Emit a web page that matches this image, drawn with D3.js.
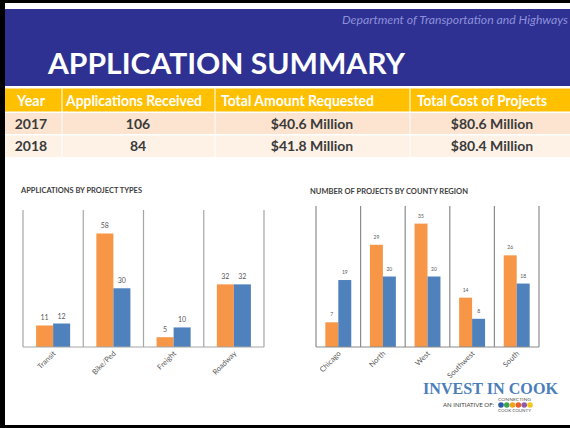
<!DOCTYPE html>
<html>
<head>
<meta charset="utf-8">
<script src="https://cdn.jsdelivr.net/npm/d3@7"></script>
<style>
body{margin:0;padding:0;background:#fff;}
svg{display:block;}
</style>
</head>
<body>
<div id="chart"></div>
<script>
// summary table
var tableHeaders = ["Year", "Applications Received", "Total Amount Requested", "Total Cost of Projects"];
var tableYears = ["2017", "2018"];
var tableApps = ["106", "84"];
var tableRequested = ["$40.6 Million", "$41.8 Million"];
var tableCost = ["$80.6 Million", "$80.4 Million"];

// left chart
var projectTypes = ["Transit", "Bike/Ped", "Freight", "Roadway"];
var projectTypes2017 = [11, 58, 5, 32];
var projectTypes2018 = [12, 30, 10, 32];

// right chart
var regions = ["Chicago", "North", "West", "Southwest", "South"];
var regions2017 = [7, 29, 35, 14, 26];
var regions2018 = [19, 20, 20, 8, 18];

var colorArr = ["#F79646", "#4F81BD"];
var W = 570, H = 428;

var svg = d3.select("#chart").append("svg")
    .attr("width", W)
    .attr("height", H);

// frame
svg.append("rect").attr("x",0).attr("y",0).attr("width",W).attr("height",H).style("fill","#000");
svg.append("rect").attr("x",5).attr("y",3).attr("width",W-5).attr("height",H-6).style("fill","#fff");

/** header band **/
svg.append("rect").attr("x",5).attr("y",9).attr("width",W-5).attr("height",77).style("fill","#2E3192");

svg.append("text")
    .attr("x", 342).attr("y", 24)
    .attr("textLength", 226)
    .attr("lengthAdjust","spacingAndGlyphs")
    .style("font-family","Lato, 'Open Sans', sans-serif")
    .style("font-style","italic")
    .style("font-size","12px")
    .style("fill","#8D90DA")
    .text("Department of Transportation and Highways");

svg.append("text")
    .attr("x", 48).attr("y", 74)
    .attr("textLength", 357)
    .attr("lengthAdjust","spacingAndGlyphs")
    .style("font-family","Lato, 'Open Sans', sans-serif")
    .style("font-weight","bold")
    .style("font-size","29px")
    .style("fill","#fff")
    .text("APPLICATION SUMMARY");

/** table **/
var colEdges = [5, 62, 215, 410, W];
var rowTop = [88.5, 113, 135.5];
var rowBottom = [111.5, 134, 157];
var rowFill = ["#FFC000", "#FCE4D0", "#FEF1E6"];

var tbl = svg.append("g").attr("class","table");
tbl.selectAll(".rowBg")
    .data(rowTop).enter().append("rect")
    .attr("class","rowBg")
    .attr("x", 5)
    .attr("y", function(d){ return d; })
    .attr("width", W-5)
    .attr("height", function(d,i){ return rowBottom[i]-d; })
    .style("fill", function(d,i){ return rowFill[i]; });

tbl.selectAll(".colSep")
    .data(colEdges.slice(1,4)).enter().append("line")
    .attr("class","colSep")
    .attr("x1", function(d){ return d; })
    .attr("x2", function(d){ return d; })
    .attr("y1", 88.5).attr("y2", 157)
    .style("stroke","#fff").style("stroke-width",1);

var headerX = [17, 66, 221, 417];
var headerLen = [28, 136, 153, 130];
tbl.selectAll(".hdr")
    .data(tableHeaders).enter().append("text")
    .attr("class","hdr")
    .attr("x", function(d,i){ return headerX[i]; })
    .attr("y", 105.5)
    .attr("textLength", function(d,i){ return headerLen[i]; })
    .attr("lengthAdjust","spacingAndGlyphs")
    .style("font-family","Lato, 'Open Sans', sans-serif")
    .style("font-weight","bold")
    .style("font-size","15px")
    .style("fill","#fff")
    .text(function(d){ return d; });

var rowBase = [129, 151];
var cellCols = [
    {vals: tableYears, x: 31},
    {vals: tableApps, x: 138},
    {vals: tableRequested, x: 312},
    {vals: tableCost, x: 492}
];
cellCols.forEach(function(c){
    tbl.selectAll(null)
        .data(c.vals).enter().append("text")
        .attr("x", c.x)
        .attr("y", function(d,i){ return rowBase[i]; })
        .attr("text-anchor","middle")
        .style("font-family","Lato, 'Open Sans', sans-serif")
        .style("font-weight","bold")
        .style("font-size","14px")
        .style("fill","#3a3a3a")
        .text(function(d){ return d; });
});

/** bar chart **/
function drawBars(opt){
    var g = svg.append("g").attr("class", opt.cls);

    g.append("text")
        .attr("x", opt.titleX).attr("y", opt.titleY)
        .attr("textLength", opt.titleLen)
        .attr("lengthAdjust","spacingAndGlyphs")
        .style("font-family","Lato, 'Open Sans', sans-serif")
        .style("font-weight","bold")
        .style("font-size","7.2px")
        .style("fill","#404040")
        .text(opt.title);

    var x = d3.scaleBand()
        .domain(opt.cats)
        .range(opt.xRange)
        .padding(0);

    var xInner = d3.scaleBand()
        .domain([0,1])
        .range([0, x.bandwidth()])
        .paddingInner(0)
        .paddingOuter(opt.outerPad);

    var y = d3.scaleLinear()
        .domain(opt.yDomain)
        .range(opt.yRange);

    // vertical gridlines on category borders
    var borders = opt.cats.map(function(c){ return x(c); }).concat([opt.xRange[1]]);
    g.selectAll(".grid")
        .data(borders).enter().append("line")
        .attr("class","grid")
        .attr("x1", function(d){ return d; })
        .attr("x2", function(d){ return d; })
        .attr("y1", y.range()[1])
        .attr("y2", y(0))
        .style("stroke", opt.gridColor)
        .style("stroke-width", 1.2);

    var series = [opt.s1, opt.s2];
    var dataset = [];
    opt.cats.forEach(function(c, i){
        series.forEach(function(s, k){
            dataset.push({cat:c, k:k, value:s[i]});
        });
    });

    g.selectAll(".bar")
        .data(dataset).enter().append("rect")
        .attr("class","bar")
        .attr("x", function(d){ return x(d.cat) + xInner(d.k); })
        .attr("y", function(d){ return y(d.value); })
        .attr("width", xInner.bandwidth())
        .attr("height", function(d){ return y(0) - y(d.value); })
        .style("fill", function(d){ return colorArr[d.k]; });

    g.selectAll(".valLabel")
        .data(dataset).enter().append("text")
        .attr("class","valLabel")
        .attr("x", function(d){ return x(d.cat) + xInner(d.k) + xInner.bandwidth()/2; })
        .attr("y", function(d){ return y(d.value) - opt.labelGap; })
        .attr("text-anchor","middle")
        .style("font-family","Lato, 'Open Sans', sans-serif")
        .style("font-size", opt.labelSize)
        .style("fill","#595959")
        .text(function(d){ return d.value; });

    g.append("line")
        .attr("x1", opt.xRange[0]).attr("x2", opt.xRange[1])
        .attr("y1", y(0)).attr("y2", y(0))
        .style("stroke", opt.gridColor)
        .style("stroke-width", 1.2);

    g.selectAll(".catLabel")
        .data(opt.cats).enter().append("text")
        .attr("class","catLabel")
        .attr("text-anchor","end")
        .attr("transform", function(d){
            return "translate(" + (x(d) + x.bandwidth()/2 + 3) + "," + (y(0) + 7) + ") rotate(-45)";
        })
        .style("font-family","Lato, 'Open Sans', sans-serif")
        .style("font-size","7.5px")
        .style("fill","#595959")
        .text(function(d){ return d; });
}

drawBars({
    cls:"leftChart",
    title:"APPLICATIONS  BY PROJECT TYPES",
    titleX:21, titleY:193, titleLen:121,
    cats:projectTypes, s1:projectTypes2017, s2:projectTypes2018,
    xRange:[23, 264], yDomain:[0,70], yRange:[347,210],
    outerPad:0.77, gridColor:"#A6A6A6",
    labelSize:"7px", labelGap:5
});

drawBars({
    cls:"rightChart",
    title:"NUMBER OF PROJECTS BY COUNTY REGION",
    titleX:310, titleY:194, titleLen:158,
    cats:regions, s1:regions2017, s2:regions2018,
    xRange:[316, 539], yDomain:[0,40], yRange:[347,206],
    outerPad:0.72, gridColor:"#8C8C8C",
    labelSize:"5px", labelGap:6
});

/** logo **/
var logo = svg.append("g").attr("class","logo");
logo.append("text")
    .attr("x", 423).attr("y", 394)
    .attr("textLength", 135)
    .attr("lengthAdjust","spacingAndGlyphs")
    .style("font-family","'Liberation Serif', 'DejaVu Serif', serif")
    .style("font-weight","bold")
    .style("font-size","17px")
    .style("fill","#4A7EBB")
    .text("INVEST IN COOK");

logo.append("text")
    .attr("x", 443).attr("y", 407)
    .attr("textLength", 51)
    .attr("lengthAdjust","spacingAndGlyphs")
    .style("font-family","Lato, 'Open Sans', sans-serif")
    .style("font-size","5px")
    .style("fill","#404040")
    .text("AN INITIATIVE OF:");

var logoDots = ["#2E5AA8", "#3FA34D", "#F4A11C", "#E8612C", "#8E5BA8", "#F2C71C"];
logo.selectAll(".dot")
    .data(logoDots).enter().append("circle")
    .attr("class","dot")
    .attr("cx", function(d,i){ return 501 + i*5.8; })
    .attr("cy", 405)
    .attr("r", 2.8)
    .style("fill", function(d){ return d; });

logo.append("text")
    .attr("x", 498).attr("y", 400.5)
    .attr("textLength", 33)
    .attr("lengthAdjust","spacingAndGlyphs")
    .style("font-family","Lato, 'Open Sans', sans-serif")
    .style("font-size","3px")
    .style("fill","#555")
    .text("CONNECTING");

logo.append("text")
    .attr("x", 498).attr("y", 411.5)
    .attr("textLength", 33)
    .attr("lengthAdjust","spacingAndGlyphs")
    .style("font-family","Lato, 'Open Sans', sans-serif")
    .style("font-size","3px")
    .style("fill","#555")
    .text("COOK COUNTY");
</script>
</body>
</html>
